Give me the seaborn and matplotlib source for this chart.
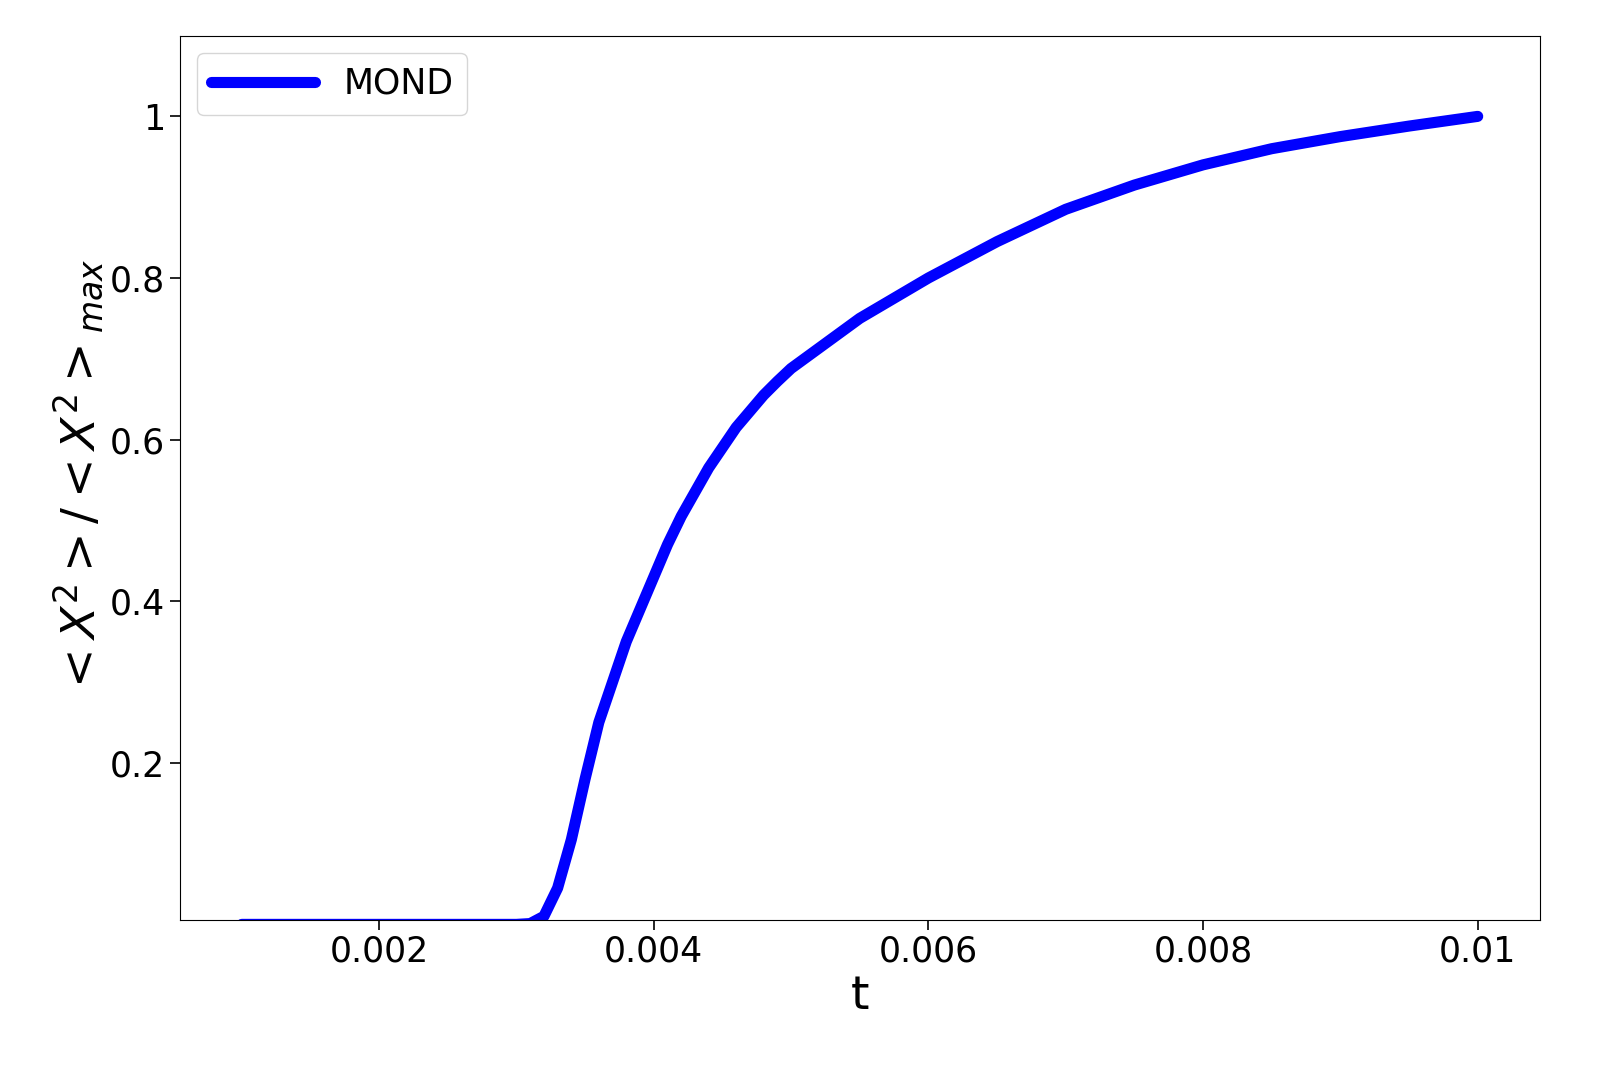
import numpy as np
import pandas as pd
import seaborn as sns
import matplotlib.pyplot as plt

sns.set_style("ticks")
plt.rcParams['font.family'] = ['DejaVu Sans']
plt.rcParams['text.color'] = 'black'
plt.rcParams['axes.labelcolor'] = 'black'
plt.rcParams['xtick.color'] = 'black'
plt.rcParams['ytick.color'] = 'black'
plt.rcParams['axes.edgecolor'] = 'black'

## values
t = [0.001, 0.002, 0.003, 0.0031, 0.0032, 0.0033, 0.0034, 0.0035, 0.0036, 0.0037,
     0.0038, 0.0039, 0.004, 0.0041, 0.0042, 0.0043, 0.0044, 0.0045, 0.0046,
     0.0047, 0.0048, 0.0049, 0.005, 0.0055, 0.006,
     0.0065, 0.007, 0.0075, 0.008, 0.0085, 0.009, 0.0095, 0.01]
ratio = [0.0, 0.0, 0.0, 0.001, 0.01, 0.045, 0.105, 0.18, 0.25, 0.30,
         0.35, 0.39, 0.43, 0.47, 0.505, 0.535, 0.565, 0.59, 0.615,
         0.635, 0.655, 0.672, 0.688, 0.75, 0.80,
         0.845, 0.885, 0.915, 0.94, 0.96, 0.975, 0.988, 1.0]

df = pd.DataFrame({'t': t, 'ratio': ratio})

fig, ax = plt.subplots(figsize=(16.07, 10.78), dpi=100)
sns.lineplot(data=df, x='t', y='ratio', color='blue', linewidth=8, label='MOND', ax=ax)

ax.set_xlim(0.00055, 0.01045)
ax.set_ylim(0.006, 1.1)
ax.set_xticks([0.002, 0.004, 0.006, 0.008, 0.01])
ax.set_xticklabels(['0.002', '0.004', '0.006', '0.008', '0.01'])
ax.set_yticks([0.2, 0.4, 0.6, 0.8, 1.0])
ax.set_yticklabels(['0.2', '0.4', '0.6', '0.8', '1'])
ax.tick_params(labelsize=25, length=7, width=1.2)
ax.set_xlabel('t', fontsize=34)
ax.set_ylabel(r'$<X^2>/<X^2>_{max}$', fontsize=34)
ax.legend(loc='upper left', fontsize=25, handlelength=3)

plt.subplots_adjust(left=0.112, right=0.958, top=0.967, bottom=0.147)
fig.savefig('out.png')
